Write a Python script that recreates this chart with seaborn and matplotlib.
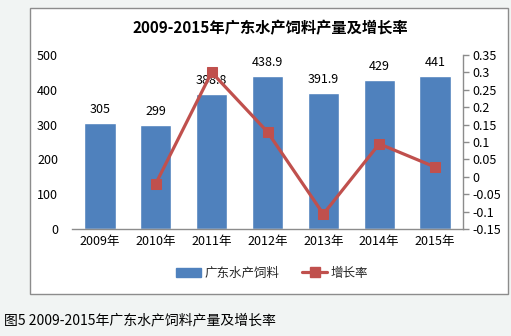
import matplotlib
matplotlib.use("Agg")
import matplotlib.pyplot as plt
import seaborn as sns
import numpy as np
import pandas as pd
from matplotlib.patches import Rectangle, Patch
from matplotlib.lines import Line2D

years = ["2009年", "2010年", "2011年", "2012年", "2013年", "2014年", "2015年"]
output = [305, 299, 388.8, 438.9, 391.9, 429, 441]
output_labels = ["305", "299", "388.8", "438.9", "391.9", "429", "441"]
growth = [-0.0197, 0.3003, 0.1289, -0.1071, 0.0947, 0.028]  # 2010-2015
left_ticks = [0, 100, 200, 300, 400, 500]
right_ticks = [-0.15, -0.1, -0.05, 0, 0.05, 0.1, 0.15, 0.2, 0.25, 0.3, 0.35]
right_tick_labels = ["-0.15", "-0.1", "-0.05", "0", "0.05", "0.1", "0.15", "0.2", "0.25", "0.3", "0.35"]

title = "2009-2015年广东水产饲料产量及增长率"
caption = "图5 2009-2015年广东水产饲料产量及增长率"
series_bar = "广东水产饲料"
series_line = "增长率"

sns.set_theme(style="white")
plt.rcParams["font.family"] = ["Noto Sans CJK SC", "DejaVu Sans"]

BLUE = "#4F81BD"
RED = "#C0504D"
W, H = 511, 336
fig = plt.figure(figsize=(W / 100, H / 100), dpi=100)
fig.patch.set_facecolor("#F1F4F3")

# chart frame
fig.patches.append(Rectangle((30 / W, 1 - 294 / H), (508 - 30) / W, (294 - 8) / H,
                             transform=fig.transFigure, facecolor="white",
                             edgecolor="#8C8C8C", linewidth=1.0, zorder=0))

ax = fig.add_axes([72 / W, 1 - 229 / H, (463 - 72) / W, (229 - 55) / H])
ax.set_facecolor("none")

df_bar = pd.DataFrame({"year": years, "output": output})
sns.barplot(data=df_bar, x="year", y="output", color=BLUE, saturation=1,
            width=0.56, ax=ax, zorder=2)
ax.set_ylim(0, 500)
ax.set_yticks(left_ticks)
ax.set_xlim(-0.5, len(years) - 0.5)
ax.set_xlabel("")
ax.set_ylabel("")
for s in ["top", "right", "left"]:
    ax.spines[s].set_visible(False)
ax.spines["bottom"].set_color("#8C8C8C")
ax.spines["bottom"].set_linewidth(1.0)
ax.tick_params(axis="both", length=0, labelsize=9, colors="black", pad=10)
ax.tick_params(axis="x", pad=4)

for i, (v, lab) in enumerate(zip(output, output_labels)):
    ax.annotate(lab, (i, v), xytext=(0, 5), textcoords="offset points",
                ha="center", va="bottom", fontsize=9, color="black", zorder=3)

ax2 = ax.twinx()
pos = np.arange(len(years))
df_line = pd.DataFrame({"pos": pos[1:], "growth": growth})
sns.lineplot(data=df_line, x="pos", y="growth", color=RED, linewidth=2.3,
             marker="s", markersize=7.5, markeredgecolor=RED, ax=ax2, zorder=5)
ax2.set_ylim(-0.15, 0.35)
ax2.set_yticks(right_ticks)
ax2.set_yticklabels(right_tick_labels)
ax2.set_xlim(-0.5, len(years) - 0.5)
ax2.set_xlabel("")
ax2.set_ylabel("")
for s in ["top", "left", "bottom"]:
    ax2.spines[s].set_visible(False)
ax2.spines["right"].set_color("#8C8C8C")
ax2.spines["right"].set_linewidth(1.0)
ax2.tick_params(axis="y", direction="out", length=4, width=1, color="#8C8C8C",
                labelsize=9, colors="black", pad=3)
ax2.tick_params(axis="y", color="#8C8C8C")
ax.set_zorder(1)
ax2.set_zorder(2)

fig.text(270 / W, 1 - 28 / H, title, ha="center", va="center",
         fontsize=11, fontweight="bold", color="black")

handles = [Patch(facecolor=BLUE, edgecolor=BLUE),
           Line2D([0], [0], color=RED, linewidth=2.3, marker="s", markersize=7)]
fig.legend(handles, [series_bar, series_line], loc="center",
           bbox_to_anchor=(272 / W, 1 - 273 / H), ncol=2, frameon=False,
           fontsize=9, handlelength=2.0, handletextpad=0.3, columnspacing=1.8)

fig.text(4 / W, 1 - 320 / H, caption, ha="left", va="center", fontsize=10,
         color="black")

fig.savefig("out.png", dpi=100, facecolor=fig.get_facecolor())
